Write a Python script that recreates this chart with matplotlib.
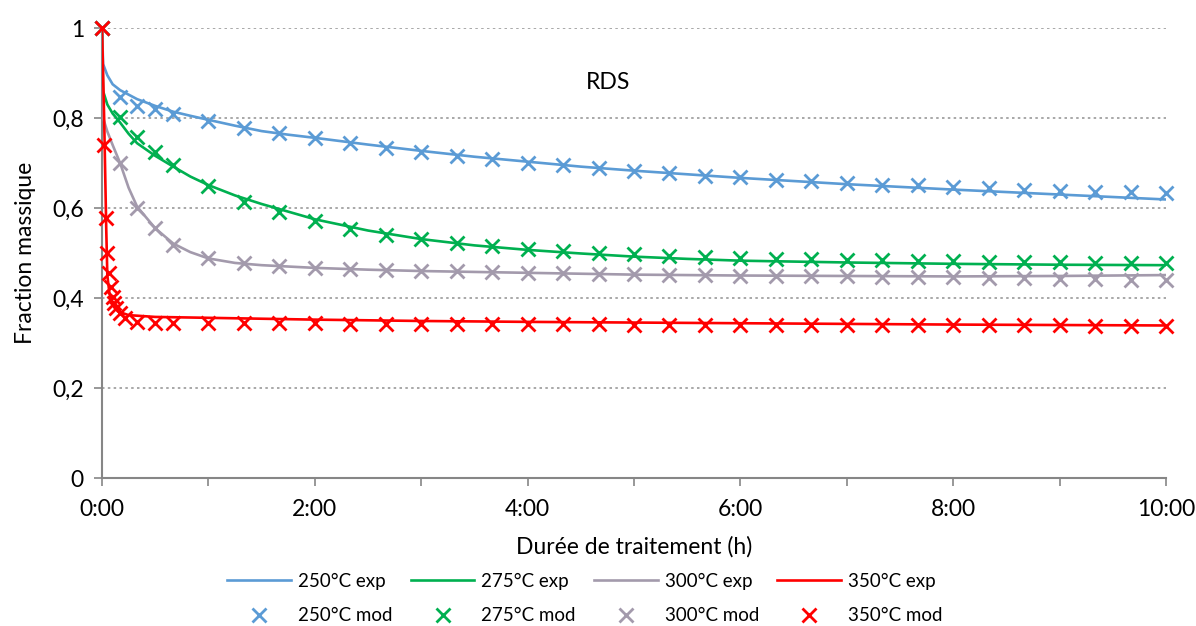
import matplotlib
matplotlib.use("Agg")
import matplotlib.pyplot as plt
from matplotlib.ticker import FixedLocator, FuncFormatter

plt.rcParams['font.family'] = ['Lato', 'DejaVu Sans']

# experimental curves (time in hours)
t_exp_250 = [0, 0.01, 0.05, 0.1, 0.17, 0.25, 0.33, 0.5, 0.67, 0.83, 1, 1.25, 1.5, 1.75, 2,
             2.5, 3, 3.5, 4, 4.5, 5, 5.5, 6, 7, 8, 9, 10]
y_exp_250 = [1, 0.92, 0.895, 0.875, 0.862, 0.852, 0.842, 0.827, 0.814, 0.805, 0.796, 0.783,
             0.771, 0.763, 0.756, 0.741, 0.727, 0.714, 0.703, 0.692, 0.683, 0.675, 0.667,
             0.653, 0.641, 0.630, 0.619]

t_exp_275 = t_exp_250
y_exp_275 = [1, 0.86, 0.83, 0.81, 0.79, 0.765, 0.744, 0.716, 0.692, 0.670, 0.651, 0.628,
             0.609, 0.592, 0.575, 0.550, 0.531, 0.517, 0.507, 0.499, 0.492, 0.487, 0.483,
             0.479, 0.476, 0.474, 0.473]

t_exp_300 = t_exp_250
y_exp_300 = [1, 0.80, 0.77, 0.74, 0.70, 0.645, 0.603, 0.555, 0.521, 0.502, 0.488, 0.478,
             0.473, 0.470, 0.467, 0.463, 0.460, 0.458, 0.456, 0.454, 0.452, 0.451, 0.450,
             0.449, 0.448, 0.449, 0.451]

t_exp_350 = [0, 0.02, 0.04, 0.05, 0.07, 0.1, 0.15, 0.25, 0.5, 1, 2, 3, 4, 6, 8, 10]
y_exp_350 = [1, 0.80, 0.55, 0.45, 0.41, 0.385, 0.370, 0.362, 0.358, 0.356, 0.352, 0.349,
             0.347, 0.344, 0.341, 0.339]

# model points
t_mod = [0, 1/6, 1/3, 0.5, 2/3] + [k / 3 for k in range(3, 31)]
y_mod_250 = [1, 0.847, 0.827, 0.820, 0.810, 0.793, 0.778, 0.766, 0.755, 0.744, 0.734,
             0.725, 0.716, 0.708, 0.701, 0.695, 0.689, 0.683, 0.677, 0.672, 0.668, 0.663,
             0.659, 0.655, 0.651, 0.651, 0.646, 0.644, 0.641, 0.638, 0.636, 0.635, 0.633]
y_mod_275 = [1, 0.803, 0.758, 0.725, 0.696, 0.649, 0.614, 0.591, 0.571, 0.553, 0.541,
             0.531, 0.523, 0.516, 0.510, 0.505, 0.501, 0.497, 0.494, 0.491, 0.489, 0.487,
             0.486, 0.485, 0.484, 0.483, 0.482, 0.481, 0.480, 0.479, 0.478, 0.478, 0.477]
y_mod_300 = [1, 0.700, 0.599, 0.555, 0.518, 0.490, 0.478, 0.471, 0.467, 0.465, 0.462,
             0.460, 0.459, 0.457, 0.456, 0.455, 0.454, 0.453, 0.452, 0.451, 0.450, 0.449,
             0.449, 0.448, 0.447, 0.446, 0.446, 0.445, 0.444, 0.443, 0.442, 0.441, 0.440]

t_mod_350 = [0, 0.017, 0.033, 0.05, 0.067, 0.083, 0.1, 0.117, 0.133, 0.167, 0.217, 0.333,
             0.5, 2/3] + [k / 3 for k in range(3, 31)]
y_mod_350 = [1, 0.74, 0.577, 0.50, 0.455, 0.425, 0.403, 0.389, 0.378, 0.367, 0.356, 0.347,
             0.345, 0.345, 0.345, 0.344, 0.344, 0.344, 0.343, 0.343, 0.343, 0.343, 0.342,
             0.342, 0.342, 0.342, 0.341, 0.341, 0.341, 0.341, 0.340, 0.340, 0.340, 0.340,
             0.340, 0.339, 0.339, 0.339, 0.339, 0.338, 0.338, 0.338]

labels = ['250°C', '275°C', '300°C', '350°C']
colors = ['#5B9BD5', '#00B050', '#A39AAC', '#FF0000']
exp_t = [t_exp_250, t_exp_275, t_exp_300, t_exp_350]
exp_y = [y_exp_250, y_exp_275, y_exp_300, y_exp_350]
mod_t = [t_mod, t_mod, t_mod, t_mod_350]
mod_y = [y_mod_250, y_mod_275, y_mod_300, y_mod_350]

fig = plt.figure(figsize=(11.96, 6.26), dpi=100)
ax = fig.add_axes([0.0853, 0.2364, 0.8896, 0.7188])

handles = []
for lab, c, tx, yx, tm, ym in zip(labels, colors, exp_t, exp_y, mod_t, mod_y):
    ln, = ax.plot(tx, yx, '-', color=c, lw=1.9, label=lab + ' exp', zorder=3)
    mk, = ax.plot(tm, ym, 'x', color=c, ms=10, mew=2, ls='none', label=lab + ' mod',
                  clip_on=False, zorder=4)
    handles += [ln, mk]

ax.set_xlim(0, 10)
ax.set_ylim(0, 1)
ax.xaxis.set_major_locator(FixedLocator([0, 2, 4, 6, 8, 10]))
ax.xaxis.set_minor_locator(FixedLocator([1, 3, 5, 7, 9]))
ax.xaxis.set_major_formatter(FuncFormatter(lambda v, p: '%d:00' % round(v)))
ax.yaxis.set_major_locator(FixedLocator([0, 0.2, 0.4, 0.6, 0.8, 1]))
ax.yaxis.set_major_formatter(FuncFormatter(lambda v, p: ('%g' % round(v, 1)).replace('.', ',')))

for s in ['top', 'right']:
    ax.spines[s].set_visible(False)
for s in ['left', 'bottom']:
    ax.spines[s].set_color('#868686')
    ax.spines[s].set_linewidth(1.5)
ax.tick_params(axis='both', which='both', direction='out', color='#868686', length=6,
               width=1.2, labelsize=16.5, labelcolor='black')
ax.tick_params(axis='x', pad=9)
ax.tick_params(axis='y', pad=7)
ax.grid(axis='y', color='#9a9a9a', ls=(0, (1.5, 2)), lw=1.2, zorder=0)
ax.set_axisbelow(True)

ax.set_xlabel('Durée de traitement (h)', fontsize=16.5, labelpad=12)
ax.set_ylabel('Fraction massique', fontsize=16.5, labelpad=12)
ax.text(0.4756, 0.88, 'RDS', transform=ax.transAxes, ha='center', va='center', fontsize=16.5)

fig.legend(handles=handles, ncol=4, loc='center', bbox_to_anchor=(0.489, 0.044),
           frameon=False, fontsize=13.5, handlelength=3.4, handletextpad=0.37,
           columnspacing=0.97, labelspacing=0.95)

fig.savefig('out.png', dpi=100)
